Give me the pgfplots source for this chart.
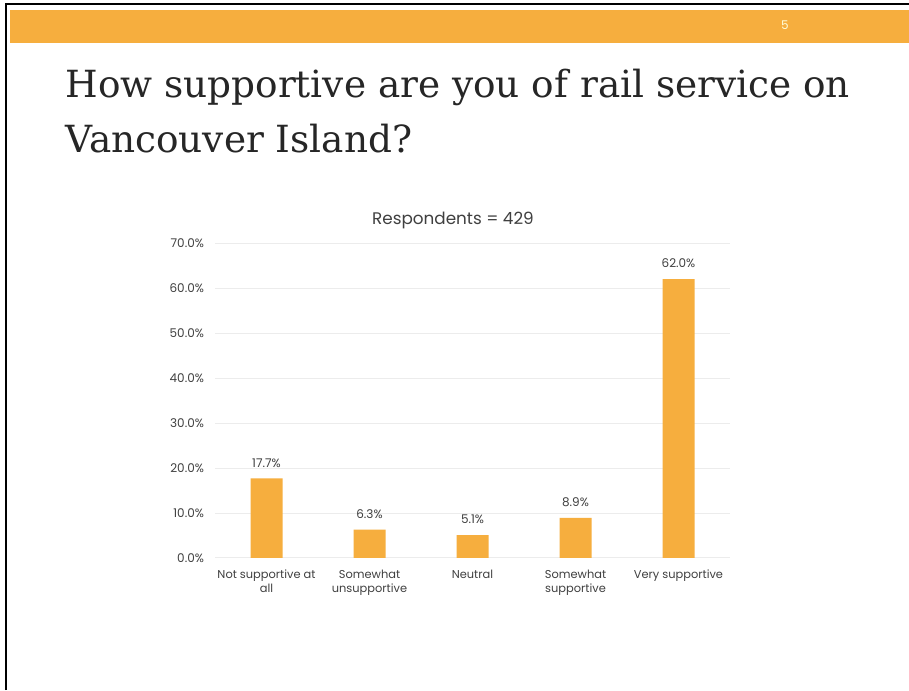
\documentclass[border=0pt]{standalone}
\usepackage{pgfplots}
\pgfplotsset{compat=1.18}
\usepackage{fontspec}
\setmainfont{Poppins}
\newfontfamily\titlefont{DejaVu Serif}
\definecolor{barorange}{RGB}{246,174,62}
\definecolor{txtgray}{RGB}{64,64,64}
\begin{document}
\begin{tikzpicture}[x=0.5pt,y=0.5pt]
\path[use as bounding box] (0,0) rectangle (909,690);
\fill[white] (0,0) rectangle (909,690);
\fill[barorange] (10,647) rectangle (909,680);
\draw[black, line width=1.3pt] (6,0) -- (6,686) -- (909,686);
\node[text=white!85!yellow, font=\fontsize{6}{7}\selectfont] at (785,665) {5};
\node[anchor=base west, inner sep=0, text=black!85, font=\titlefont\fontsize{18.7}{22}\selectfont] at (65,592) {How supportive are you of rail service on};
\node[anchor=base west, inner sep=0, text=black!85, font=\titlefont\fontsize{18.7}{22}\selectfont] at (65,537) {Vancouver Island?};
\node[text=txtgray, font=\fontsize{8.4}{10}\selectfont] at (453,470) {Respondents = 429};
\begin{axis}[
  at={(107.5pt,66pt)}, anchor=south west, scale only axis,
  width=257.5pt, height=157.5pt,
  xmin=-0.5, xmax=4.5, ymin=0, ymax=70,
  ytick={0,10,...,70},
  xtick=data,
  xticklabels={{Not supportive at\\all},{Somewhat\\unsupportive},{Neutral},{Somewhat\\supportive},{Very supportive}},
  axis line style={draw=none},
  major tick length=0pt,
  ymajorgrids, grid style={gray!15, line width=0.5pt},
  /pgf/number format/assume math mode=true,
  yticklabel={\pgfmathprintnumber[fixed,fixed zerofill,precision=1]{\tick}\%},
  yticklabel style={font=\fontsize{6}{7}\selectfont, text=txtgray, xshift=-2pt},
  xticklabel style={font=\fontsize{5.7}{6.8}\selectfont, text=txtgray, align=center, yshift=-2.5pt},
  ybar, bar width=16pt,
  nodes near coords={\pgfmathprintnumber[fixed,fixed zerofill,precision=1,assume math mode=true]{\pgfplotspointmeta}\%},
  nodes near coords style={font=\fontsize{6}{7}\selectfont, text=txtgray, yshift=2pt},
]
\addplot[fill=barorange, draw=none] coordinates {(0,17.7) (1,6.3) (2,5.1) (3,8.9) (4,62.0)};
\end{axis}
\end{tikzpicture}
\end{document}
